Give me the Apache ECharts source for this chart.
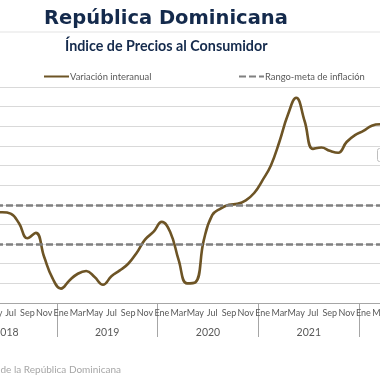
<!DOCTYPE html>
<html>
<head>
<meta charset="utf-8">
<script src="https://cdn.jsdelivr.net/npm/echarts@6/dist/echarts.min.js"></script>
<style>html,body{margin:0;padding:0;background:#fff;overflow:hidden;width:380px;height:380px;position:relative}#c{position:absolute;left:-44px;top:0;width:560px;height:380px}</style>
</head>
<body>
<div id="c"></div>
<script>
const monthNames = ['Ene','Feb','Mar','Abr','May','Jun','Jul','Ago','Sep','Oct','Nov','Dic'];
const years = ['2018','2019','2020','2021','2022'];
const inflation2018 = [null,null,null,null,4.62,4.62,4.55,4.06,3.30,3.57,2.34,1.25];
const inflation2019 = [0.73,1.15,1.49,1.63,1.32,0.93,1.36,1.66,2.00,2.55,3.23,3.62];
const inflation2020 = [4.13,3.62,2.20,1.00,1.05,3.20,4.47,4.81,5.00,5.05,5.23,5.60];
const inflation2021 = [6.26,7.02,8.21,9.57,10.45,9.27,7.85,7.92,7.75,7.65,8.20,8.55];
const inflation2022 = [8.76,9.03,9.10,null,null,null,null,null,null,null,null,null];
const targetRange = [3, 5];
const yTicks = {min: 0, max: 11, interval: 1};

const categories = [];
years.forEach(y => monthNames.forEach(m => categories.push(m + ' ' + y)));
const values = [].concat(inflation2018, inflation2019, inflation2020, inflation2021, inflation2022);

const OX = 44; // page-to-chart offset (chart div starts 44px left of the page)
const chart = echarts.init(document.getElementById('c'), null, {renderer: 'canvas'});
const labelColor = '#595959';
const font = 'Lato';
const dash = {color: '#808080', width: 2.6, type: [7, 3]};
chart.setOption({
  animation: false,
  backgroundColor: '#fff',
  title: [{
    text: 'República Dominicana', left: OX + 44, top: 9, padding: 0,
    textStyle: {fontFamily: 'DejaVu Sans', fontWeight: 'bold', fontSize: 19.5, color: '#142a4c'}
  }, {
    text: 'Índice de Precios al Consumidor', left: OX + 65, top: 39, padding: 0,
    textStyle: {fontFamily: font, fontWeight: 'bold', fontSize: 14.3, color: '#142a4c'}
  }],
  legend: [{
    data: [{name: 'Variación interanual', itemStyle: {opacity: 0}}], left: OX + 43, top: 72, padding: 0, itemWidth: 25, itemHeight: 10,
    textStyle: {fontFamily: font, fontSize: 9.4, color: labelColor, padding: [0,0,0,-4]}
  }, {
    data: [{name: 'Rango-meta de inflación', itemStyle: {opacity: 0}}], left: OX + 238, top: 72, padding: 0, itemWidth: 25, itemHeight: 10,
    textStyle: {fontFamily: font, fontSize: 9.4, color: labelColor, padding: [0,0,0,-4]}
  }],
  grid: {left: 0, top: 87, width: 504, height: 216, containLabel: false, outerBoundsMode: 'none'},
  xAxis: [{
    type: 'category', data: categories, boundaryGap: true, position: 'bottom',
    axisLine: {show: true, lineStyle: {color: '#a6a6a6', width: 1}},
    axisTick: {show: true, interval: i => i % 12 === 0, length: 34, lineStyle: {color: '#a6a6a6', width: 1}},
    axisLabel: {interval: 1, margin: 6, fontFamily: font, fontSize: 9, color: labelColor, hideOverlap: false,
      formatter: v => v.split(' ')[0]},
    splitLine: {show: false}
  }, {
    type: 'category', data: years, boundaryGap: true, position: 'bottom', offset: 20,
    axisLine: {show: false}, axisTick: {show: false},
    axisLabel: {margin: 4, fontFamily: font, fontSize: 10.5, color: labelColor},
    splitLine: {show: false}
  }],
  yAxis: {
    type: 'value', min: yTicks.min, max: yTicks.max, interval: yTicks.interval,
    axisLabel: {show: false}, axisLine: {show: false}, axisTick: {show: false},
    splitLine: {show: true, lineStyle: {color: '#d9d9d9', width: 1}}
  },
  graphic: [
    {type: 'line', shape: {x1: OX, y1: 32, x2: OX + 380, y2: 32}, style: {stroke: '#e3e3e3', lineWidth: 1}},
    {type: 'rect', shape: {x: OX + 377.5, y: 148.5, width: 30, height: 13, r: 2}, style: {fill: '#fff', stroke: '#bfbfbf', lineWidth: 1}},
    {type: 'text', x: OX + 121, y: 370, style: {text: 'Fuente: Banco Central de la República Dominicana', align: 'right', verticalAlign: 'middle',
      fontFamily: font, fontSize: 10, fill: '#a6a6a6'}}
  ],
  series: [{
    name: 'Rango-meta de inflación', type: 'line', data: [], xAxisIndex: 0,
    lineStyle: dash, itemStyle: {color: '#808080'},
    symbol: 'none',
    markLine: {silent: true, symbol: 'none', label: {show: false},
      lineStyle: dash,
      data: targetRange.map(v => ({yAxis: v}))}
  }, {
    name: 'Variación interanual', type: 'line', data: values, xAxisIndex: 0,
    smooth: 0.45, symbol: 'none', connectNulls: false,
    lineStyle: {color: '#6d5425', width: 2.6}, itemStyle: {color: '#6d5425'}
  }]
});
</script>
</body>
</html>
